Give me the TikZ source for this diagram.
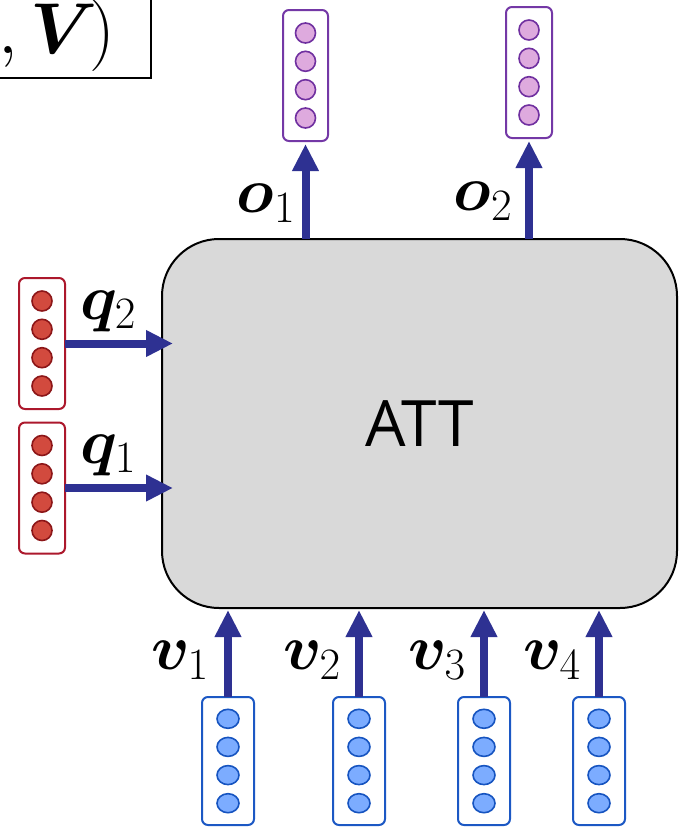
\RequirePackage{fix-cm}
\documentclass[tikz,border=0pt]{standalone}
\usepackage{fontspec}
\usepackage{bm}
\newfontfamily\attfont{Open Sans}
\usetikzlibrary{arrows.meta,shapes.geometric,calc}
\definecolor{arrowblue}{RGB}{46,49,146}
\definecolor{boxgray}{RGB}{217,217,217}
\definecolor{redb}{RGB}{172,24,44}
\definecolor{redcf}{RGB}{210,74,62}
\definecolor{redcb}{RGB}{140,22,24}
\definecolor{purb}{RGB}{116,56,166}
\definecolor{purcf}{RGB}{222,170,222}
\definecolor{purcb}{RGB}{112,48,160}
\definecolor{blub}{RGB}{28,88,196}
\definecolor{blucf}{RGB}{124,172,255}
\definecolor{blucb}{RGB}{22,84,192}
\begin{document}
\begin{tikzpicture}[x=1pt,y=-1pt,
  vecbox/.style={draw, rounded corners=6pt, line width=2pt, fill=white, minimum width=46pt, minimum height=131pt, inner sep=0pt, outer sep=0pt},
  dotred/.style={circle, draw=redcb, fill=redcf, line width=1.6pt, minimum size=20pt, inner sep=0pt},
  dotpur/.style={circle, draw=purcb, fill=purcf, line width=1.6pt, minimum size=20pt, inner sep=0pt},
  dotblu/.style={ellipse, draw=blucb, fill=blucf, line width=1.6pt, minimum width=22pt, minimum height=19pt, inner sep=0pt},
  arr/.style={draw=arrowblue, line width=8pt, -{Triangle[width=25pt,length=27pt]}},
  lab/.style={inner sep=0pt, font=\fontsize{64}{68}\selectfont}]
\useasboundingbox (0,0) rectangle (679,827);

% formula box (cropped)
\draw[line width=2pt] (-30,-30) rectangle (151,78);
\node[anchor=base east, inner sep=0pt, font=\fontsize{72}{76}\selectfont] (formula) at (115,53) {$(\bm{Q},\bm{V}\mkern-2mu)$};

% main attention box
\node[draw, line width=2pt, fill=boxgray, rounded corners=57pt, minimum width=515pt, minimum height=369pt, inner sep=0pt, outer sep=0pt, font=\attfont\fontsize{64}{70}\selectfont] (att) at (419.5,423.5) {ATT};

% query vectors
\node[vecbox, draw=redb] (q2box) at (42,343.5) {};
\node[vecbox, draw=redb] (q1box) at (42,488) {};
\foreach \b in {q2box,q1box}{
  \foreach \k/\dy in {1/42.5,2/14.2,3/-14.2,4/-42.5}
    \node[dotred] (\b c\k) at ([yshift=\dy pt]\b.center) {};
}

% output vectors
\node[vecbox, draw=purb, minimum width=45pt] (o1box) at (305.5,75.5) {};
\node[vecbox, draw=purb] (o2box) at (529,72.5) {};
\foreach \b in {o1box,o2box}{
  \foreach \k/\dy in {1/42.5,2/14.2,3/-14.2,4/-42.5}
    \node[dotpur] (\b c\k) at ([yshift=\dy pt]\b.center) {};
}

% value vectors
\node[vecbox, draw=blub, minimum width=52pt, minimum height=128pt] (v1box) at (228,761) {};
\node[vecbox, draw=blub, minimum width=52pt, minimum height=128pt] (v2box) at (359,761) {};
\node[vecbox, draw=blub, minimum width=52pt, minimum height=128pt] (v3box) at (484,761) {};
\node[vecbox, draw=blub, minimum width=52pt, minimum height=128pt] (v4box) at (599,761) {};
\foreach \b in {v1box,v2box,v3box,v4box}{
  \foreach \k/\dy in {1/42.2,2/14.1,3/-14.1,4/-42.2}
    \node[dotblu] (\b c\k) at ([yshift=\dy pt]\b.center) {};
}

% arrows
\draw[arr] (q2box.east) -- ($(att.west |- q2box.east)+(11,0)$);
\draw[arr] (q1box.east) -- ($(att.west |- q1box.east)+(11,0)$);
\draw[arr] (att.north -| o1box.south) -- ($(o1box.south)+(0,3)$);
\draw[arr] (att.north -| o2box.south) -- ($(o2box.south)+(0,3)$);
\foreach \b in {v1box,v2box,v3box,v4box}
  \draw[arr] (\b.north) -- ($(\b.north |- att.south)+(0,2)$);

% labels
\node[lab] (q2lab) at (108,311) {$\bm{q}_{2}$};
\node[lab] (q1lab) at (108,455) {$\bm{q}_{1}$};
\node[lab] (o1lab) at (266,203) {$\bm{o}_{1}$};
\node[lab] (o2lab) at (483,201) {$\bm{o}_{2}$};
\node[lab] (v1lab) at (180,660) {$\bm{v}_{1}$};
\node[lab] (v2lab) at (312,660) {$\bm{v}_{2}$};
\node[lab] (v3lab) at (437,660) {$\bm{v}_{3}$};
\node[lab] (v4lab) at (552,660) {$\bm{v}_{4}$};
\end{tikzpicture}
\end{document}
